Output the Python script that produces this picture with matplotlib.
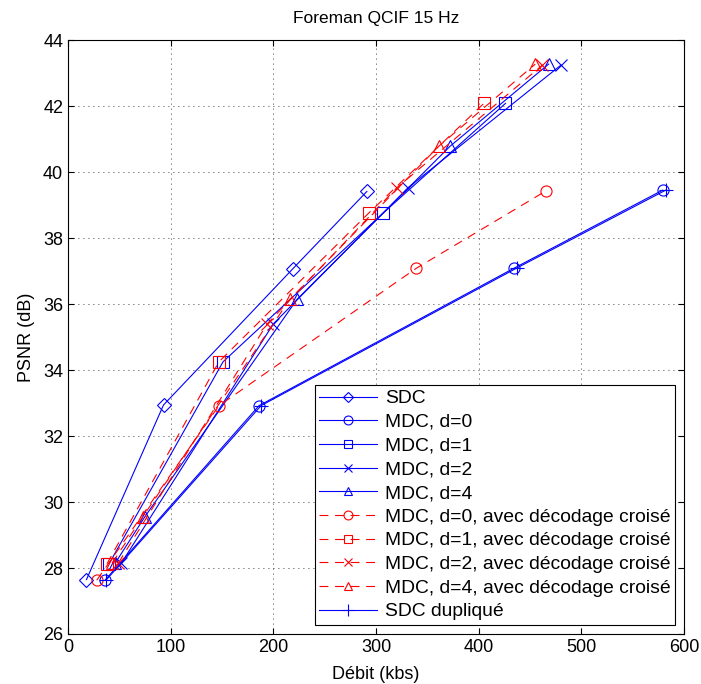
import matplotlib
matplotlib.use('Agg')
import matplotlib.pyplot as plt

plt.rcParams['font.family'] = ['Liberation Sans', 'DejaVu Sans']

# SDC
sdc_x = [18, 93, 219, 291]
sdc_y = [27.65, 32.94, 37.07, 39.41]
# MDC (bleu)
mdc0_x = [36, 186, 434, 579]
mdc0_y = [27.63, 32.92, 37.08, 39.45]
mdc1_x = [40, 151, 307, 426]
mdc1_y = [28.13, 34.25, 38.76, 42.08]
mdc2_x = [52, 200, 331, 480]
mdc2_y = [28.15, 35.40, 39.52, 43.24]
mdc4_x = [46, 75, 223, 372, 468]
mdc4_y = [28.15, 29.56, 36.14, 40.78, 43.27]
# MDC avec decodage croise (rouge)
mdc0c_x = [28, 147, 339, 465]
mdc0c_y = [27.63, 32.92, 37.08, 39.42]
mdc1c_x = [38, 147, 293, 405]
mdc1c_y = [28.13, 34.25, 38.76, 42.08]
mdc2c_x = [49, 194, 320, 462]
mdc2c_y = [28.15, 35.40, 39.52, 43.24]
mdc4c_x = [43, 73, 216, 361, 455]
mdc4c_y = [28.15, 29.56, 36.14, 40.78, 43.27]
# SDC duplique
sdcd_x = [37, 188, 437, 582]
sdcd_y = [27.63, 32.92, 37.09, 39.45]

fig = plt.figure(figsize=(7.01, 6.84), dpi=100)
ax = fig.add_axes([0.097, 0.0731, 0.879, 0.8684])

b = '#0000ff'
r = '#ff0000'
kw = dict(lw=0.8, ms=8, mfc='none', mew=0.8)
dash = (0, (8, 6))

ax.plot(sdc_x, sdc_y, color=b, marker='D', label='SDC', **{**kw, 'ms': 7})
ax.plot(mdc0_x, mdc0_y, color=b, marker='o', label='MDC, d=0', **kw)
ax.plot(mdc1_x, mdc1_y, color=b, marker='s', label='MDC, d=1', **kw)
ax.plot(mdc2_x, mdc2_y, color=b, marker='x', label='MDC, d=2', **kw)
ax.plot(mdc4_x, mdc4_y, color=b, marker='^', label='MDC, d=4', **kw)
ax.plot(mdc0c_x, mdc0c_y, color=r, ls=dash, marker='o', label='MDC, d=0, avec décodage croisé', **kw)
ax.plot(mdc1c_x, mdc1c_y, color=r, ls=dash, marker='s', label='MDC, d=1, avec décodage croisé', **kw)
ax.plot(mdc2c_x, mdc2c_y, color=r, ls=dash, marker='x', label='MDC, d=2, avec décodage croisé', **kw)
ax.plot(mdc4c_x, mdc4c_y, color=r, ls=dash, marker='^', label='MDC, d=4, avec décodage croisé', **kw)
ax.plot(sdcd_x, sdcd_y, color=b, marker='+', label='SDC dupliqué', **{**kw, 'ms': 10})

ax.set_xlim(0, 600)
ax.set_ylim(26, 44)
ax.set_xticks(range(0, 601, 100))
ax.set_yticks(range(26, 45, 2))
ax.grid(True, color='black', ls=(0, (1, 5)), lw=0.6)
ax.tick_params(direction='in', top=True, right=True, labelsize=13, length=4)
for s in ax.spines.values():
    s.set_linewidth(0.8)

ax.set_title('Foreman QCIF 15 Hz', fontsize=12.5, pad=12)
ax.set_xlabel('Débit (kbs)', fontsize=13, labelpad=7)
ax.set_ylabel('PSNR (dB)', fontsize=13, labelpad=6)

leg = ax.legend(loc='lower right', fontsize=13.9, fancybox=False, framealpha=1,
                edgecolor='black', labelspacing=0.32, handlelength=3.0,
                handletextpad=0.4, borderaxespad=0.45, borderpad=0.25,
                markerscale=0.8)
leg.get_frame().set_linewidth(0.8)

fig.savefig('out.png', dpi=100)
